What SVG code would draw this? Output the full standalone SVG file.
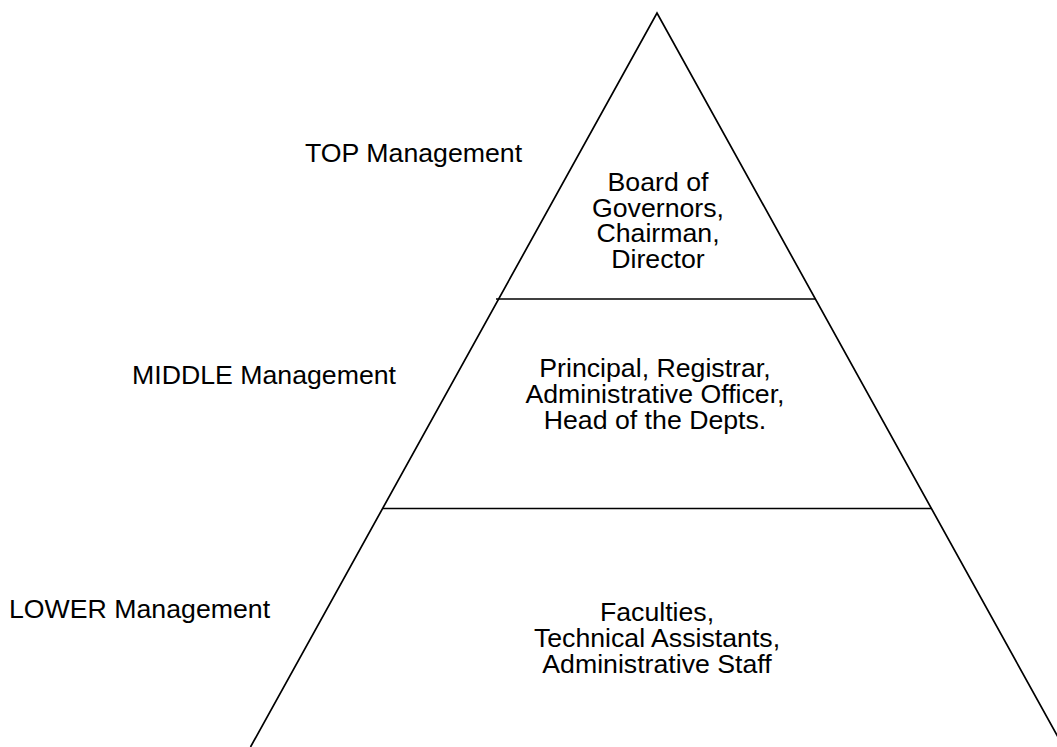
<svg xmlns="http://www.w3.org/2000/svg" width="1057" height="747" viewBox="0 0 1057 747">
<style>
  .t { font-family: "Liberation Sans", Arial, sans-serif; font-size: 26.7px; fill: #000; }
  .c { text-anchor: middle; }
  .ln { stroke: #000; stroke-width: 1.7; fill: none; }
</style>
<rect width="1057" height="747" fill="#fff"/>
<g id="connectors">
  <polyline class="ln" points="250.5,747 657,13 1063.5,747"/>
  <line class="ln" x1="496" y1="299" x2="816" y2="299"/>
  <line class="ln" x1="383" y1="508.5" x2="931" y2="508.5"/>
</g>
<g id="top-label"><text class="t" x="305" y="162">TOP Management</text></g>
<g id="middle-label"><text class="t" x="132" y="384">MIDDLE Management</text></g>
<g id="lower-label"><text class="t" x="9" y="618">LOWER Management</text></g>
<g id="top-level">
  <text class="t c" x="658" y="191">Board of</text>
  <text class="t c" x="658" y="217">Governors,</text>
  <text class="t c" x="658" y="242">Chairman,</text>
  <text class="t c" x="658" y="268">Director</text>
</g>
<g id="middle-level">
  <text class="t c" x="655" y="377">Principal, Registrar,</text>
  <text class="t c" x="655" y="403">Administrative Officer,</text>
  <text class="t c" x="655" y="429">Head of the Depts.</text>
</g>
<g id="lower-level">
  <text class="t c" x="657" y="621">Faculties,</text>
  <text class="t c" x="657" y="647">Technical Assistants,</text>
  <text class="t c" x="657" y="673">Administrative Staff</text>
</g>
</svg>
